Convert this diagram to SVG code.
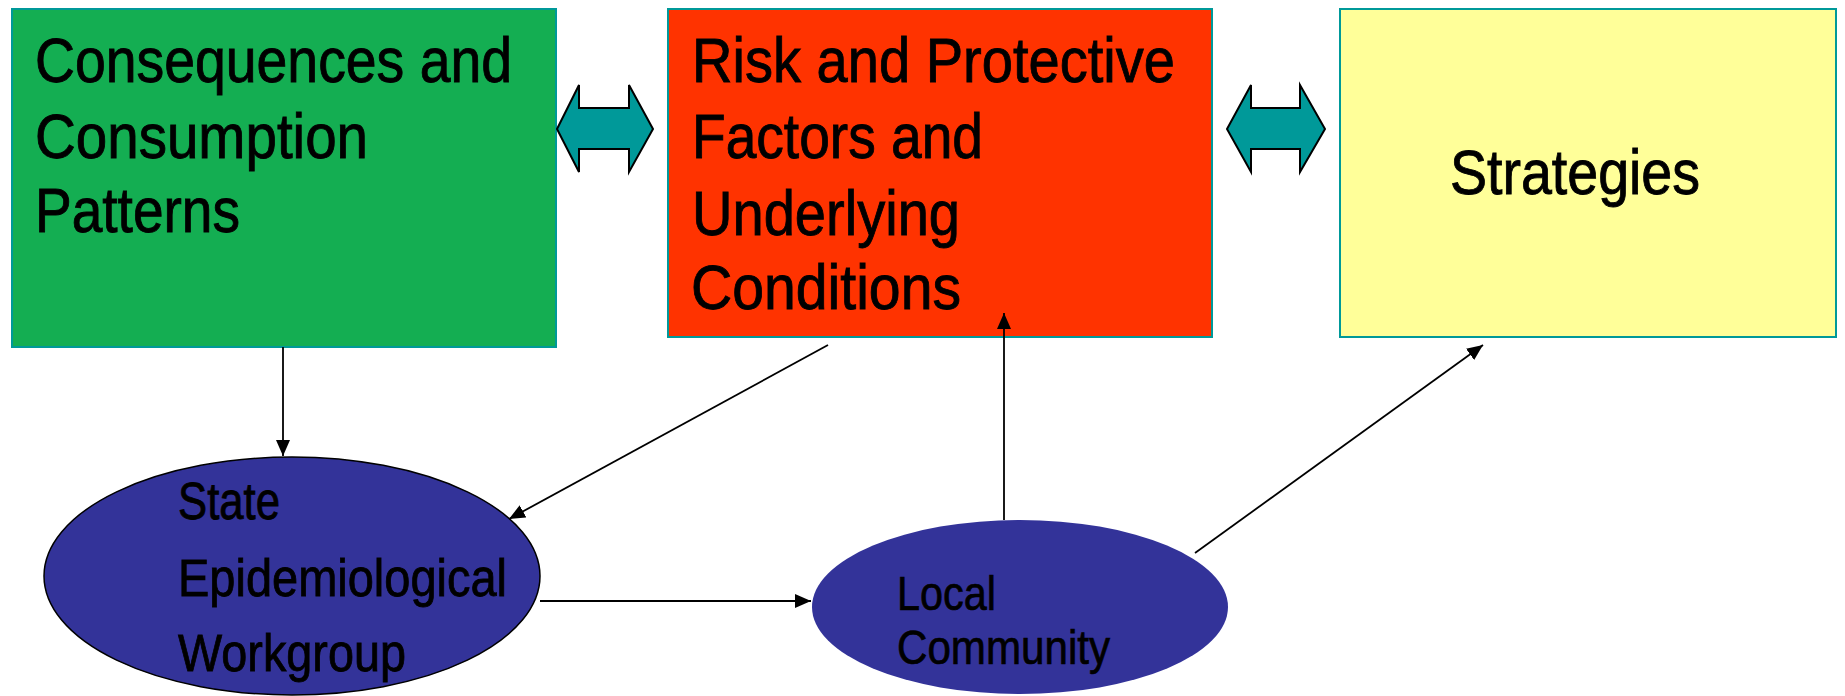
<svg xmlns="http://www.w3.org/2000/svg" width="1845" height="696" viewBox="0 0 1845 696">
<style>
.box{stroke:#009999;stroke-width:2}
.big{font-family:"Liberation Sans",Arial,sans-serif;font-size:63px;fill:#000;stroke:#000;stroke-width:0.9}
.e1{font-family:"Liberation Sans",Arial,sans-serif;font-size:51px;fill:#000;stroke:#000;stroke-width:0.8}
.e2{font-family:"Liberation Sans",Arial,sans-serif;font-size:48px;fill:#000;stroke:#000;stroke-width:0.7}
.dbl{fill:#009999;stroke:#000;stroke-width:2;stroke-linejoin:miter}
.conn{stroke:#000;stroke-width:1.8;fill:none;marker-end:url(#ah)}
</style>
<defs>
<marker id="ah" markerUnits="userSpaceOnUse" markerWidth="17" markerHeight="14" refX="16" refY="7" orient="auto">
<path d="M0,0 L16,7 L0,14 z" fill="#000"/>
</marker>
</defs>
<rect width="1845" height="696" fill="#fff"/>
<g id="consequences">
<rect class="box" x="12" y="9" width="544" height="338" fill="#14AE52"/>
<text class="big" x="35" y="82" textLength="477" lengthAdjust="spacingAndGlyphs">Consequences and</text>
<text class="big" x="35" y="158" textLength="333" lengthAdjust="spacingAndGlyphs">Consumption</text>
<text class="big" x="35" y="232" textLength="205" lengthAdjust="spacingAndGlyphs">Patterns</text>
</g>
<g id="risk">
<rect class="box" x="668" y="9" width="544" height="328" fill="#FF3300"/>
<text class="big" x="692" y="82" textLength="483" lengthAdjust="spacingAndGlyphs">Risk and Protective</text>
<text class="big" x="692" y="158" textLength="291" lengthAdjust="spacingAndGlyphs">Factors and</text>
<text class="big" x="692" y="235" textLength="268" lengthAdjust="spacingAndGlyphs">Underlying</text>
<text class="big" x="691" y="309" textLength="270" lengthAdjust="spacingAndGlyphs">Conditions</text>
</g>
<g id="strategies">
<rect class="box" x="1340" y="9" width="496" height="328" fill="#FFFF99"/>
<text class="big" x="1450" y="194" textLength="250" lengthAdjust="spacingAndGlyphs">Strategies</text>
</g>
<g id="sew">
<ellipse cx="292" cy="576" rx="248" ry="119" fill="#333399" stroke="#000" stroke-width="1.5"/>
<text class="e1" x="178" y="519" textLength="102" lengthAdjust="spacingAndGlyphs">State</text>
<text class="e1" x="178" y="596" textLength="329" lengthAdjust="spacingAndGlyphs">Epidemiological</text>
<text class="e1" x="178" y="671" textLength="228" lengthAdjust="spacingAndGlyphs">Workgroup</text>
</g>
<g id="local">
<ellipse cx="1020" cy="607" rx="208" ry="87" fill="#333399"/>
<text class="e2" x="897" y="610" textLength="99" lengthAdjust="spacingAndGlyphs">Local</text>
<text class="e2" x="897" y="664" textLength="213" lengthAdjust="spacingAndGlyphs">Community</text>
</g>
<g id="biarrows">
<polygon class="dbl" points="557,129 579,85 579,108 629,108 629,85 653,129 629,172 629,149 579,149 579,172"/>
<polygon class="dbl" points="1227,129 1251,85 1251,108 1300,108 1300,85 1325,129 1300,172 1300,149 1251,149 1251,172"/>
</g>
<g id="connectors">
<line class="conn" x1="283" y1="347" x2="283" y2="456"/>
<line class="conn" x1="828" y1="345" x2="509" y2="519"/>
<line class="conn" x1="540" y1="601" x2="811" y2="601"/>
<line class="conn" x1="1004" y1="520" x2="1004" y2="313"/>
<line class="conn" x1="1195" y1="553" x2="1483" y2="345"/>
</g>
</svg>
